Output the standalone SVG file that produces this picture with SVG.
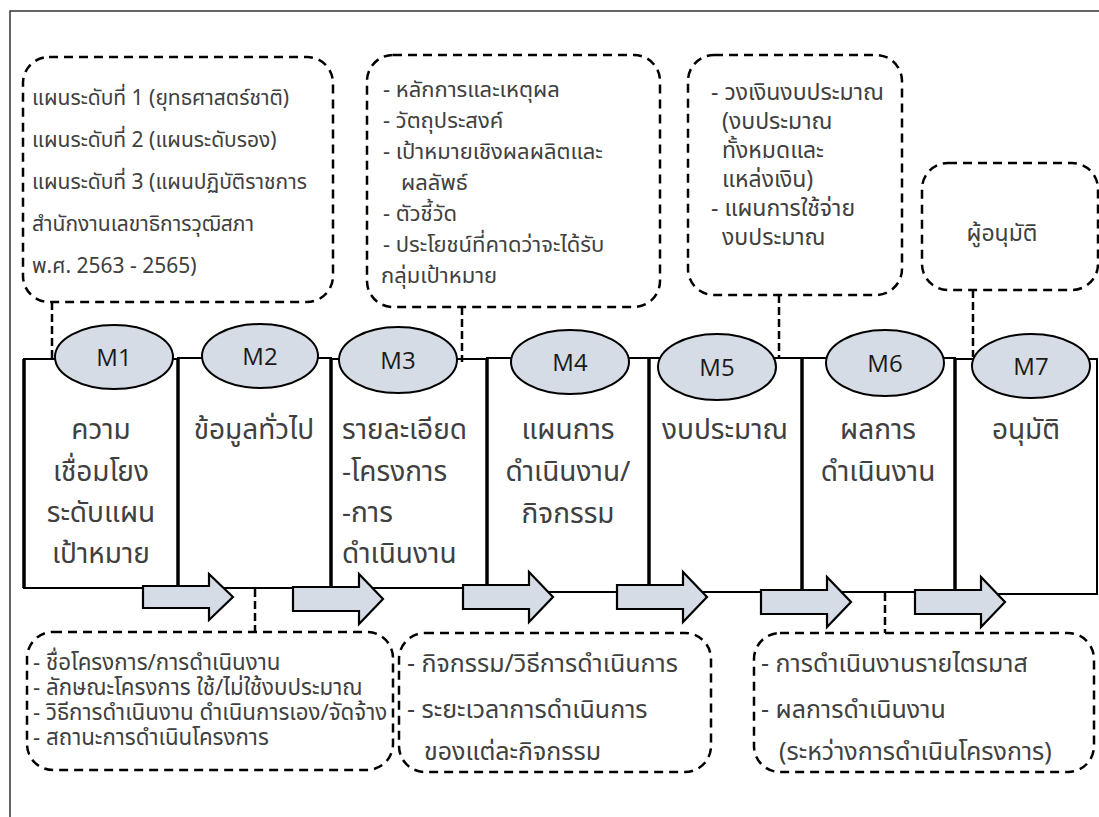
<svg xmlns="http://www.w3.org/2000/svg" width="1099" height="817" viewBox="0 0 1099 817">
<style>
.frame{fill:none;stroke:#333;stroke-width:1.5}
.callout{fill:none;stroke:#000;stroke-width:2.5;stroke-dasharray:9 6}
.conn{fill:none;stroke:#000;stroke-width:2.5;stroke-dasharray:8 4}
.box{fill:#fff;stroke:#000;stroke-width:2}
.sep{stroke:#000;stroke-width:3.5}
.ell{fill:#d6dce5;stroke:#000;stroke-width:2}
.arrow{fill:#d6dce5;stroke:#000;stroke-width:2.2;stroke-linejoin:miter}
.m{font-family:'Open Sans','Noto Sans',sans-serif;font-size:24px;fill:#1a1a1a;text-anchor:middle}
.t{font-family:'Noto Sans Thai','Leelawadee UI',Tahoma,'Noto Sans',sans-serif;fill:#404040}
.bt{font-size:28px}
.c1{font-size:21px}
.c2{font-size:22px}
.c3{font-size:23px}
.cb1{font-size:22.3px}
.cb2{font-size:25px}
.mid{text-anchor:middle}
</style>
<defs>
<path id="arr" d="M0,-12 H66 V-25 L90,0 L66,25 V12 H0 Z"/>
</defs>
<rect width="1099" height="817" fill="#fff"/>
<path class="frame" d="M10,817 V11 H1099"/>

<g id="boxes">
<g id="box1"><rect class="box" x="24" y="359" width="154" height="229"/></g>
<g id="box2"><rect class="box" x="178" y="358" width="153" height="230"/></g>
<g id="box3"><rect class="box" x="331" y="359" width="156" height="229"/></g>
<g id="box4"><rect class="box" x="487" y="358" width="162" height="234"/></g>
<g id="box5"><rect class="box" x="649" y="358" width="153" height="234"/></g>
<g id="box6"><rect class="box" x="802" y="358" width="153" height="234"/></g>
<g id="box7"><rect class="box" x="955" y="359" width="142" height="235"/></g>
<line class="sep" x1="24" y1="359" x2="24" y2="588"/>
<line class="sep" x1="178" y1="358" x2="178" y2="588"/>
<line class="sep" x1="331" y1="358" x2="331" y2="588"/>
<line class="sep" x1="487" y1="358" x2="487" y2="592"/>
<line class="sep" x1="649" y1="358" x2="649" y2="592"/>
<line class="sep" x1="802" y1="358" x2="802" y2="592"/>
<line class="sep" x1="955" y1="358" x2="955" y2="594"/>
</g>

<g id="connectors">
<line class="conn" x1="52" y1="302" x2="52" y2="358"/>
<line class="conn" x1="462" y1="307" x2="462" y2="362"/>
<line class="conn" x1="779" y1="295" x2="779" y2="358"/>
<line class="conn" x1="973" y1="290" x2="973" y2="357"/>
<line class="conn" x1="255" y1="589" x2="255" y2="632"/>
<line class="conn" x1="885" y1="593" x2="885" y2="633"/>
</g>

<g id="arrows">
<use href="#arr" class="arrow" transform="translate(143,597) scale(1,0.92)"/>
<use href="#arr" class="arrow" transform="translate(293,599)"/>
<use href="#arr" class="arrow" transform="translate(463,597)"/>
<use href="#arr" class="arrow" transform="translate(617,597)"/>
<use href="#arr" class="arrow" transform="translate(761,602)"/>
<use href="#arr" class="arrow" transform="translate(915,602)"/>
</g>

<g id="M1"><ellipse class="ell" cx="114" cy="357" rx="59" ry="32"/><text class="m" x="114" y="366">M1</text>
<text class="t bt mid" x="101" y="439">ความ</text><text class="t bt mid" x="101" y="481">เชื่อมโยง</text><text class="t bt mid" x="101" y="522">ระดับแผน</text><text class="t bt mid" x="101" y="563">เป้าหมาย</text></g>
<g id="M2"><ellipse class="ell" cx="260" cy="356" rx="58" ry="32"/><text class="m" x="260" y="365">M2</text>
<text class="t bt mid" x="254" y="439">ข้อมูลทั่วไป</text></g>
<g id="M3"><ellipse class="ell" cx="398" cy="360" rx="59" ry="33"/><text class="m" x="398" y="369">M3</text>
<text class="t bt" x="342" y="439">รายละเอียด</text><text class="t bt" x="342" y="481">-โครงการ</text><text class="t bt" x="342" y="522">-การ</text><text class="t bt" x="342" y="563">ดำเนินงาน</text></g>
<g id="M4"><ellipse class="ell" cx="570" cy="362" rx="59" ry="32"/><text class="m" x="570" y="371">M4</text>
<text class="t bt mid" x="568" y="439">แผนการ</text><text class="t bt mid" x="568" y="481">ดำเนินงาน/</text><text class="t bt mid" x="568" y="523">กิจกรรม</text></g>
<g id="M5"><ellipse class="ell" cx="717" cy="367" rx="59" ry="33"/><text class="m" x="717" y="376">M5</text>
<text class="t bt mid" x="725" y="439">งบประมาณ</text></g>
<g id="M6"><ellipse class="ell" cx="885" cy="363" rx="59" ry="33"/><text class="m" x="885" y="372">M6</text>
<text class="t bt mid" x="878" y="439">ผลการ</text><text class="t bt mid" x="878" y="481">ดำเนินงาน</text></g>
<g id="M7"><ellipse class="ell" cx="1031" cy="366" rx="59" ry="32"/><text class="m" x="1031" y="375">M7</text>
<text class="t bt mid" x="1026" y="439">อนุมัติ</text></g>

<g id="callout1"><rect class="callout" x="23" y="57" width="310" height="245" rx="26"/>
<text class="t c1" x="32" y="105">แผนระดับที่ 1 (ยุทธศาสตร์ชาติ)</text>
<text class="t c1" x="32" y="147">แผนระดับที่ 2 (แผนระดับรอง)</text>
<text class="t c1" x="32" y="189">แผนระดับที่ 3 (แผนปฏิบัติราชการ</text>
<text class="t c1" x="32" y="231">สำนักงานเลขาธิการวุฒิสภา</text>
<text class="t c1" x="32" y="273">พ.ศ. 2563 - 2565)</text></g>

<g id="callout2"><rect class="callout" x="367" y="55" width="293" height="252" rx="26"/>
<text class="t c2" x="383" y="97">- หลักการและเหตุผล</text>
<text class="t c2" x="383" y="128">- วัตถุประสงค์</text>
<text class="t c2" x="383" y="159">- เป้าหมายเชิงผลผลิตและ</text>
<text class="t c2" x="401" y="190">ผลลัพธ์</text>
<text class="t c2" x="383" y="221">- ตัวชี้วัด</text>
<text class="t c2" x="383" y="252">- ประโยชน์ที่คาดว่าจะได้รับ</text>
<text class="t c2" x="381" y="283">กลุ่มเป้าหมาย</text></g>

<g id="callout3"><rect class="callout" x="688" y="55" width="214" height="240" rx="26"/>
<text class="t c3" x="711" y="100">- วงเงินงบประมาณ</text>
<text class="t c3" x="722" y="129">(งบประมาณ</text>
<text class="t c3" x="722" y="158">ทั้งหมดและ</text>
<text class="t c3" x="722" y="187">แหล่งเงิน)</text>
<text class="t c3" x="711" y="216">- แผนการใช้จ่าย</text>
<text class="t c3" x="722" y="245">งบประมาณ</text></g>

<g id="callout4"><rect class="callout" x="922" y="163" width="176" height="127" rx="26"/>
<text class="t c3 mid" x="1002" y="241">ผู้อนุมัติ</text></g>

<g id="calloutB1"><rect class="callout" x="27" y="632" width="366" height="138" rx="26"/>
<text class="t cb1" x="33" y="670">- ชื่อโครงการ/การดำเนินงาน</text>
<text class="t cb1" x="33" y="695">- ลักษณะโครงการ ใช้/ไม่ใช้งบประมาณ</text>
<text class="t cb1" x="33" y="720">- วิธีการดำเนินงาน ดำเนินการเอง/จัดจ้าง</text>
<text class="t cb1" x="33" y="745">- สถานะการดำเนินโครงการ</text></g>

<g id="calloutB2"><rect class="callout" x="399" y="633" width="312" height="139" rx="26"/>
<text class="t cb2" x="407" y="672">- กิจกรรม/วิธีการดำเนินการ</text>
<text class="t cb2" x="407" y="718">- ระยะเวลาการดำเนินการ</text>
<text class="t cb2" x="424" y="760">ของแต่ละกิจกรรม</text></g>

<g id="calloutB3"><rect class="callout" x="754" y="633" width="340" height="139" rx="26"/>
<text class="t cb2" x="761" y="672">- การดำเนินงานรายไตรมาส</text>
<text class="t cb2" x="761" y="718">- ผลการดำเนินงาน</text>
<text class="t cb2" x="779" y="760">(ระหว่างการดำเนินโครงการ)</text></g>
</svg>
